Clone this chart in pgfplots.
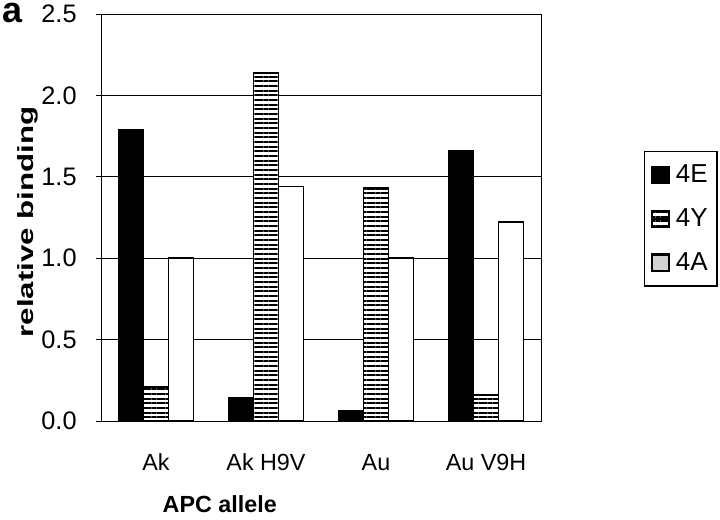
\documentclass[border=0pt]{standalone}
\usepackage{pgfplots}
\pgfplotsset{compat=1.18}
\usepackage{fontspec}
\setmainfont{Liberation Sans}
\usetikzlibrary{patterns.meta}
\newcommand{\legfont}{\fontsize{19.5}{21}\selectfont}
\begin{document}
\begin{tikzpicture}
\begin{axis}[
  name=main,
  width=330pt, height=305.25pt, scale only axis, clip mode=individual,
  ybar=0pt, bar width=18.75pt,
  xmin=-0.5, xmax=3.5, ymin=0, ymax=2.5,
  xtick={0,1,2,3},
  xticklabels={Ak,Ak H9V,Au,Au V9H},
  minor xtick={-0.5,0.5,1.5,2.5,3.5},
  xtick style={draw=none},
  minor tick length=5pt, major tick length=3.75pt,
  tick align=outside, xtick pos=bottom, ytick pos=left,
  ytick={0,0.5,...,2.5},
  /pgf/number format/fixed, /pgf/number format/fixed zerofill,
  /pgf/number format/precision=1, /pgf/number format/assume math mode=true,
  yticklabel style={font=\fontsize{19}{21}\selectfont, xshift=-11pt},
  xticklabel style={font=\fontsize{17.5}{19}\selectfont, anchor=base, yshift=-33pt},
  ymajorgrids, grid style={black, line width=0.6pt},
  axis line style={line width=0.7pt},
  every tick/.style={black, line width=0.7pt},
  xlabel={\bfseries APC allele},
  xlabel style={font=\fontsize{17.5}{20}\selectfont, at={(rel axis cs:0.27,-0.226)}, anchor=base},
  ylabel={\scalebox{1.42}[1]{\bfseries relative binding}},
  ylabel style={font=\fontsize{16.5}{19}\selectfont, at={(rel axis cs:-0.166,0.489)}, anchor=center},
  legend style={at={(rel axis cs:1.234,0.663)}, anchor=north west, draw=black, line width=0.9pt,
    font=\legfont, row sep=14pt, inner xsep=5pt, inner ysep=8pt,
    /tikz/every odd column/.append style={column sep=2.5pt}},
  legend cell align=left,
]
\addplot[draw=black, line width=1.4pt, fill=black,
  legend image code/.code={\draw[black, fill=black, line width=1.6pt] (0pt,-6.2pt) rectangle (12.4pt,6.2pt);}]
  coordinates {(0,1.79) (1,0.14) (2,0.06) (3,1.66)};
\addplot[draw=black, line width=1.4pt, fill=white,
  postaction={pattern={Lines[angle=0, distance=3.5pt, line width=1.5pt]}},
  legend image code/.code={\draw[black, fill=white, line width=1.6pt] (0pt,-6.2pt) rectangle (12.4pt,6.2pt);
    \draw[black, line width=1.6pt] (0pt,0pt) -- (12.4pt,0pt);}]
  coordinates {(0,0.21) (1,2.14) (2,1.43) (3,0.16)};
\addplot[draw=black, line width=1.4pt, fill=white,
  legend image code/.code={\draw[black, fill=black!18, line width=1.6pt] (0pt,-6.2pt) rectangle (12.4pt,6.2pt);}]
  coordinates {(0,1.00) (1,1.44) (2,1.00) (3,1.22)};
\addlegendentry{\legfont 4E}
\addlegendentry{\legfont 4Y}
\addlegendentry{\legfont 4A}
\node[font=\fontsize{27}{30}\selectfont\bfseries, anchor=base west, inner sep=0pt] at (rel axis cs:-0.225,0.978) {a};
\end{axis}
% page extents of the reference (720x520 px at 0.75 pt/px)
\path (main.south west) ++(-75.75pt,-74.25pt) rectangle ++(540pt,390pt);
\end{tikzpicture}
\end{document}
